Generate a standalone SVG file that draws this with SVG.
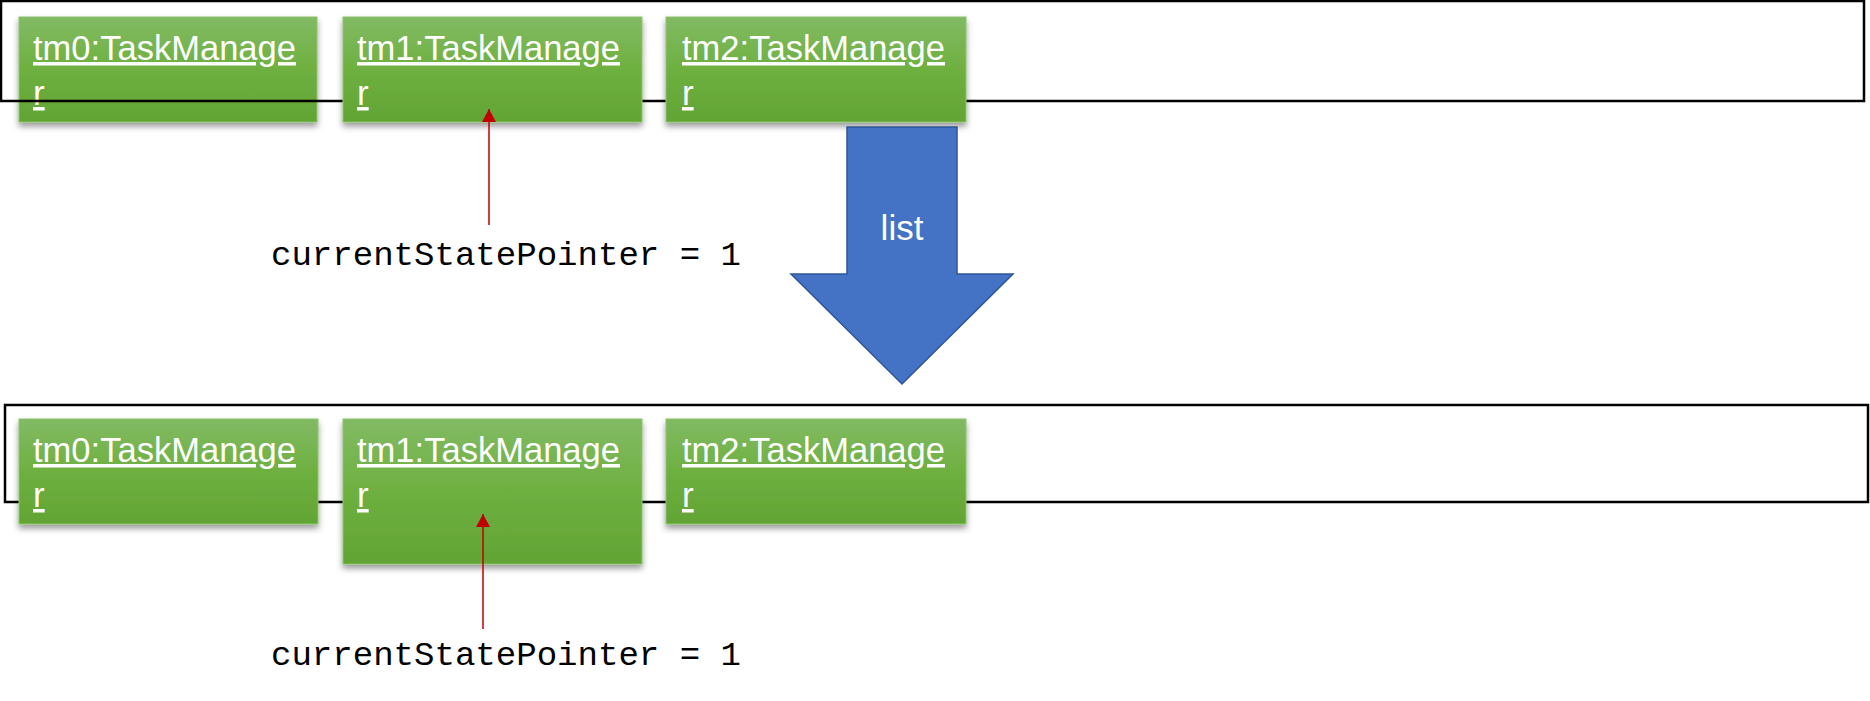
<svg xmlns="http://www.w3.org/2000/svg" width="1870" height="701" viewBox="0 0 1870 701">
<style>
.frame{fill:none;stroke:#000;stroke-width:2.5}
.box{fill:url(#g);stroke:#8cc46c;stroke-width:1}
.lbl{font-family:"Liberation Sans",Arial,sans-serif;font-size:35px;fill:#fff;text-decoration:underline}
.ptr{font-family:"Liberation Mono","DejaVu Sans Mono",monospace;font-size:34px;fill:#000}
.red{stroke:#c00000;stroke-width:1.5;fill:none}
</style>
<defs>
<linearGradient id="g" x1="0" y1="0" x2="0" y2="1">
<stop offset="0" stop-color="#82ba64"/>
<stop offset="0.5" stop-color="#6eb040"/>
<stop offset="1" stop-color="#62a434"/>
</linearGradient>
<filter id="sh" x="-10%" y="-10%" width="120%" height="130%">
<feDropShadow dx="0" dy="4" stdDeviation="3" flood-color="#000" flood-opacity="0.4"/>
</filter>
<marker id="ah" markerWidth="13" markerHeight="14" refX="13" refY="7" orient="auto" markerUnits="userSpaceOnUse" viewBox="0 0 13 14">
<path d="M0,0 L13,7 L0,14 Z" fill="#c00000"/>
</marker>
</defs>

<g id="top-section">
<g id="top-tm0">
<rect class="box" x="19" y="17" width="298" height="105" filter="url(#sh)"/>
<text class="lbl" x="33" y="60" textLength="263" lengthAdjust="spacingAndGlyphs">tm0:TaskManage</text>
<text class="lbl" x="33" y="105">r</text>
</g>
<rect id="top-frame" class="frame" x="1" y="1" width="1863" height="100"/>
<g id="top-tm1">
<rect class="box" x="343" y="17" width="299" height="105" filter="url(#sh)"/>
<text class="lbl" x="357" y="60" textLength="263" lengthAdjust="spacingAndGlyphs">tm1:TaskManage</text>
<text class="lbl" x="357" y="105">r</text>
</g>
<g id="top-tm2">
<rect class="box" x="666" y="17" width="300" height="105" filter="url(#sh)"/>
<text class="lbl" x="682" y="60" textLength="263" lengthAdjust="spacingAndGlyphs">tm2:TaskManage</text>
<text class="lbl" x="682" y="105">r</text>
</g>
<text id="top-pointer" class="ptr" x="271" y="265" textLength="470" lengthAdjust="spacingAndGlyphs">currentStatePointer = 1</text>
</g>

<g id="list-arrow">
<path d="M847,127 L957,127 L957,274 L1013,274 L902,384 L791,274 L847,274 Z" fill="#4472c4" stroke="#2f5597" stroke-width="1.5"/>
<text x="902" y="240" text-anchor="middle" font-family="'Liberation Sans',Arial,sans-serif" font-size="35" fill="#fff">list</text>
</g>

<g id="bottom-section">
<rect id="bottom-frame" class="frame" x="5" y="405" width="1863" height="97"/>
<g id="bot-tm0">
<rect class="box" x="19" y="419" width="299" height="105" filter="url(#sh)"/>
<text class="lbl" x="33" y="462" textLength="263" lengthAdjust="spacingAndGlyphs">tm0:TaskManage</text>
<text class="lbl" x="33" y="507">r</text>
</g>
<g id="bot-tm1">
<rect class="box" x="343" y="419" width="299" height="145" filter="url(#sh)"/>
<text class="lbl" x="357" y="462" textLength="263" lengthAdjust="spacingAndGlyphs">tm1:TaskManage</text>
<text class="lbl" x="357" y="507">r</text>
</g>
<g id="bot-tm2">
<rect class="box" x="666" y="419" width="300" height="105" filter="url(#sh)"/>
<text class="lbl" x="682" y="462" textLength="263" lengthAdjust="spacingAndGlyphs">tm2:TaskManage</text>
<text class="lbl" x="682" y="507">r</text>
</g>
<text id="bottom-pointer" class="ptr" x="271" y="665" textLength="470" lengthAdjust="spacingAndGlyphs">currentStatePointer = 1</text>
</g>

<g id="connectors">
<line class="red" x1="489" y1="225" x2="489" y2="109" marker-end="url(#ah)"/>
<line class="red" x1="483" y1="629" x2="483" y2="514" marker-end="url(#ah)"/>
</g>
</svg>
